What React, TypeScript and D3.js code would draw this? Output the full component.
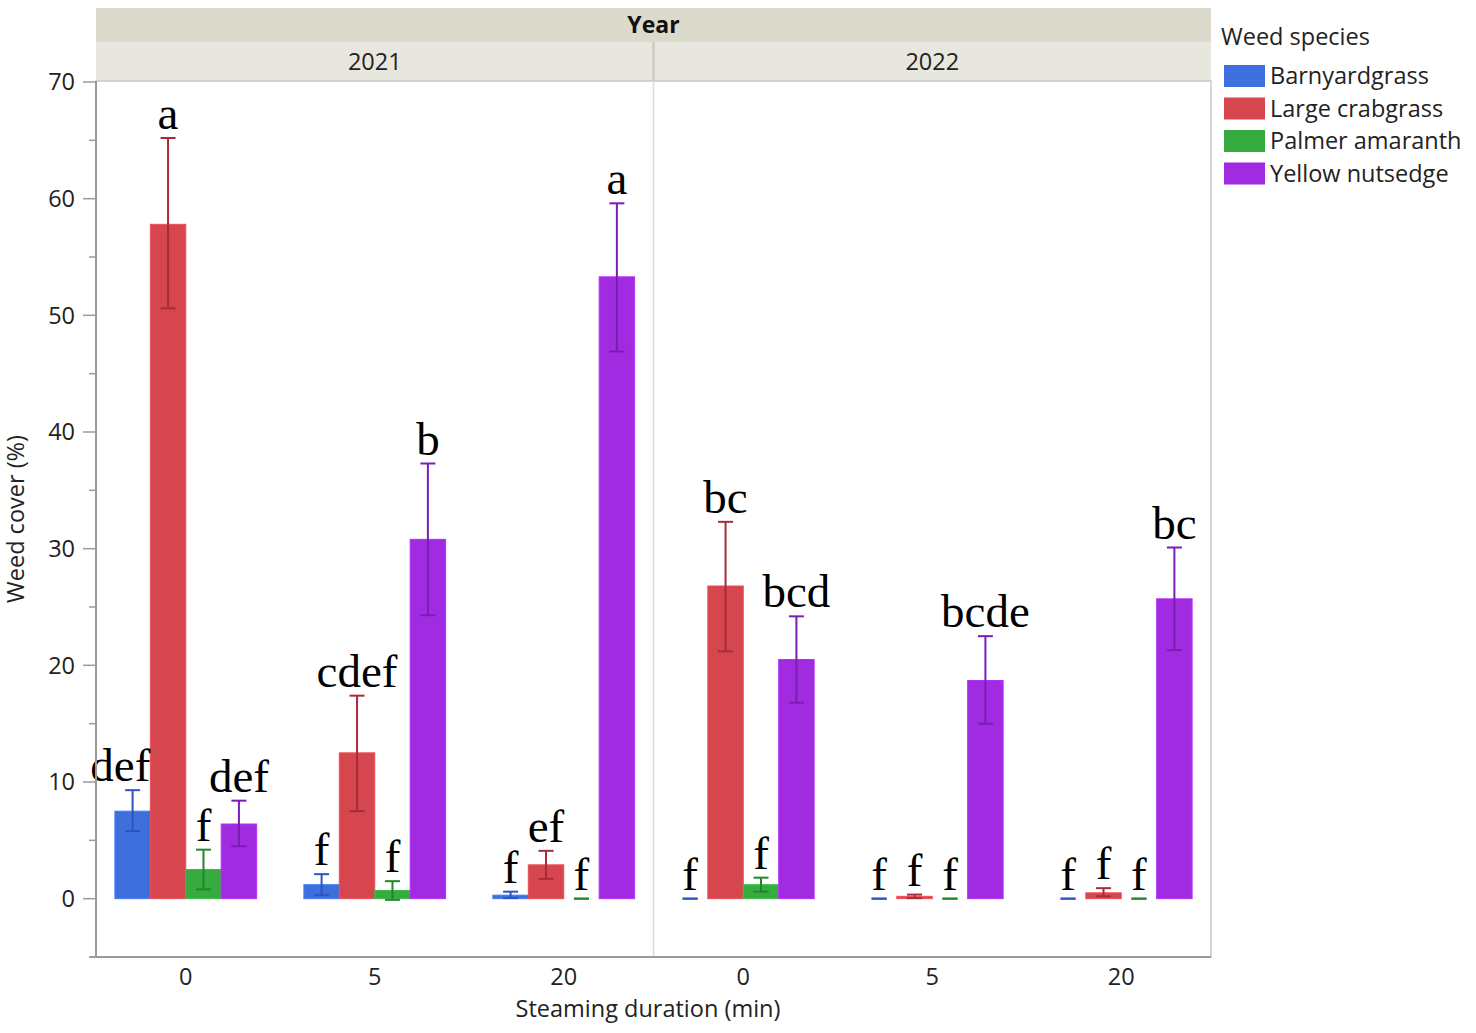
import React from "react";
import * as d3 from "d3";

const years = ["2021", "2022"];
const durations = ["0", "5", "20"];
const species = ["Barnyardgrass", "Large crabgrass", "Palmer amaranth", "Yellow nutsedge"];
const speciesColors = ["#3d6fdd", "#d5464f", "#36ab3f", "#a12be0"];
const errorColors = ["#2c55bd", "#a52d39", "#23862c", "#7a1db3"];

// order: 2021-0, 2021-5, 2021-20, 2022-0, 2022-5, 2022-20
const barnyardMean = [7.5, 1.2, 0.3, 0, 0, 0];
const barnyardLo = [5.8, 0.3, 0.05, 0, 0, 0];
const barnyardHi = [9.3, 2.1, 0.6, 0, 0, 0];
const crabMean = [57.8, 12.5, 2.9, 26.8, 0.2, 0.5];
const crabLo = [50.6, 7.5, 1.7, 21.2, 0.05, 0.2];
const crabHi = [65.2, 17.4, 4.1, 32.3, 0.35, 0.9];
const palmerMean = [2.5, 0.7, 0, 1.2, 0, 0];
const palmerLo = [0.8, -0.1, 0, 0.6, 0, 0];
const palmerHi = [4.2, 1.5, 0, 1.8, 0, 0];
const nutsedgeMean = [6.4, 30.8, 53.3, 20.5, 18.7, 25.7];
const nutsedgeLo = [4.5, 24.3, 46.9, 16.8, 15.0, 21.3];
const nutsedgeHi = [8.4, 37.3, 59.6, 24.2, 22.5, 30.1];

const barnyardLetters = ["def", "f", "f", "f", "f", "f"];
const crabLetters = ["a", "cdef", "ef", "bc", "f", "f"];
const palmerLetters = ["f", "f", "f", "f", "f", "f"];
const nutsedgeLetters = ["def", "b", "a", "bcd", "bcde", "bc"];

const yTicks = [0, 10, 20, 30, 40, 50, 60, 70];
const yMinorTicks = [-5, 5, 15, 25, 35, 45, 55, 65];

const means = [barnyardMean, crabMean, palmerMean, nutsedgeMean];
const los = [barnyardLo, crabLo, palmerLo, nutsedgeLo];
const his = [barnyardHi, crabHi, palmerHi, nutsedgeHi];
const letters = [barnyardLetters, crabLetters, palmerLetters, nutsedgeLetters];

const W = 1476;
const H = 1033;
const plotL = 96;
const plotR = 1211;
const plotT = 81;
const plotB = 957;
const sansFont = "'Open Sans', 'Noto Sans', sans-serif";
const fs = 23.5;

export default function App() {
  const y = d3.scaleLinear().domain([-5, 70]).range([plotB, 82]);
  const xYear = d3.scaleBand<string>().domain(years).range([plotL, plotR]).padding(0);
  const xDur = d3
    .scaleBand<string>()
    .domain(durations)
    .range([0, xYear.bandwidth()])
    .paddingInner(0.25)
    .paddingOuter(0.1);
  const xSp = d3.scaleBand<string>().domain(species).range([0, xDur.bandwidth()]).padding(0);
  const capW = 15;

  const bars: React.ReactNode[] = [];
  const labels: React.ReactNode[] = [];
  years.forEach((yr, yi) => {
    durations.forEach((du, di) => {
      const idx = yi * durations.length + di;
      species.forEach((sp, si) => {
        const x0 = (xYear(yr) as number) + (xDur(du) as number) + (xSp(sp) as number);
        const bw = xSp.bandwidth();
        const cx = x0 + bw / 2;
        const m = means[si][idx];
        const lo = los[si][idx];
        const hi = his[si][idx];
        const key = `${yr}-${du}-${si}`;
        if (m > 0) {
          bars.push(
            <rect
              key={key + "r"}
              x={x0}
              y={y(m)}
              width={bw}
              height={y(0) - y(m)}
              fill={speciesColors[si]}
              stroke={d3.color(speciesColors[si])!.brighter(0.3).toString()}
              strokeWidth={1}
            />
          );
        }
        bars.push(
          <g key={key + "e"} stroke={errorColors[si]} strokeWidth={2}>
            <line x1={cx} x2={cx} y1={y(lo)} y2={y(hi)} />
            <line x1={cx - capW / 2} x2={cx + capW / 2} y1={y(hi)} y2={y(hi)} />
            <line x1={cx - capW / 2} x2={cx + capW / 2} y1={y(lo)} y2={y(lo)} />
          </g>
        );
        const base = y(Math.max(hi, 0)) - 9;
        const txt = letters[si][idx];
        const nextTaller = si < species.length - 1 && y(means[si + 1][idx]) < base;
        const alignEnd = txt.length >= 3 && nextTaller;
        labels.push(
          <text
            key={key + "t"}
            x={alignEnd ? x0 + bw : cx}
            y={base}
            textAnchor={alignEnd ? "end" : "middle"}
            fontFamily="'Liberation Serif', 'Times New Roman', serif"
            fontSize={47}
            fill="#000"
          >
            {txt}
          </text>
        );
      });
    });
  });

  return (
    <svg
      width={W}
      height={H}
      style={{ position: "absolute", left: 0, top: 0, background: "#fff" }}
      fontFamily={sansFont}
    >
      {/* header bands */}
      <rect x={plotL} y={8} width={plotR - plotL} height={34} fill="#dcd9cd" />
      <text x={(plotL + plotR) / 2} y={33} textAnchor="middle" fontSize={23} fontWeight="bold" fill="#111">
        Year
      </text>
      {years.map((yr) => (
        <g key={yr}>
          <rect x={xYear(yr)!} y={42} width={xYear.bandwidth()} height={39} fill="#e8e7df" />
          <text
            x={xYear(yr)! + xYear.bandwidth() / 2}
            y={70}
            textAnchor="middle"
            fontSize={fs}
            fill="#222"
          >
            {yr}
          </text>
        </g>
      ))}
      <line x1={xYear("2022")!} x2={xYear("2022")!} y1={42} y2={81} stroke="#d2d0c6" strokeWidth={3} />

      {/* plot frame */}
      <rect x={plotL} y={plotT} width={plotR - plotL} height={plotB - plotT} fill="none" stroke="#c8c8c8" strokeWidth={1.5} />
      <line x1={xYear("2022")!} x2={xYear("2022")!} y1={plotT} y2={plotB} stroke="#dcdcdc" strokeWidth={1.5} />

      {bars}
      {labels}

      {/* y axis */}
      <line x1={plotL} x2={plotL} y1={plotT} y2={plotB} stroke="#9a9a9a" strokeWidth={2} />
      {yTicks.map((t) => (
        <g key={"yt" + t}>
          <line x1={plotL - 13} x2={plotL} y1={y(t)} y2={y(t)} stroke="#9a9a9a" strokeWidth={1.5} />
          <text x={plotL - 21} y={y(t)} dy="0.35em" textAnchor="end" fontSize={fs} fill="#222">
            {t}
          </text>
        </g>
      ))}
      {yMinorTicks.map((t) => (
        <line key={"ym" + t} x1={plotL - 7} x2={plotL} y1={y(t)} y2={y(t)} stroke="#9a9a9a" strokeWidth={1.5} />
      ))}
      <text
        transform={`translate(24, ${(plotT + plotB) / 2}) rotate(-90)`}
        textAnchor="middle"
        fontSize={fs}
        fill="#222"
      >
        Weed cover (%)
      </text>

      {/* x axis */}
      <line x1={plotL - 6} x2={plotR} y1={plotB} y2={plotB} stroke="#9a9a9a" strokeWidth={2} />
      {years.map((yr) =>
        durations.map((du) => (
          <text
            key={"xl" + yr + du}
            x={xYear(yr)! + xDur(du)! + xDur.bandwidth() / 2}
            y={985}
            textAnchor="middle"
            fontSize={fs}
            fill="#222"
          >
            {du}
          </text>
        ))
      )}
      <text x={648} y={1017} textAnchor="middle" fontSize={fs} fill="#222">
        Steaming duration (min)
      </text>

      {/* legend */}
      <text x={1221} y={45} fontSize={fs} fill="#222">
        Weed species
      </text>
      {species.map((sp, i) => (
        <g key={sp} transform={`translate(1224, ${65 + i * 32.5})`}>
          <rect x={0} y={0} width={41} height={22} fill={speciesColors[i]} />
          <text x={46} y={11} dy="0.35em" fontSize={fs} fill="#222">
            {sp}
          </text>
        </g>
      ))}
    </svg>
  );
}
